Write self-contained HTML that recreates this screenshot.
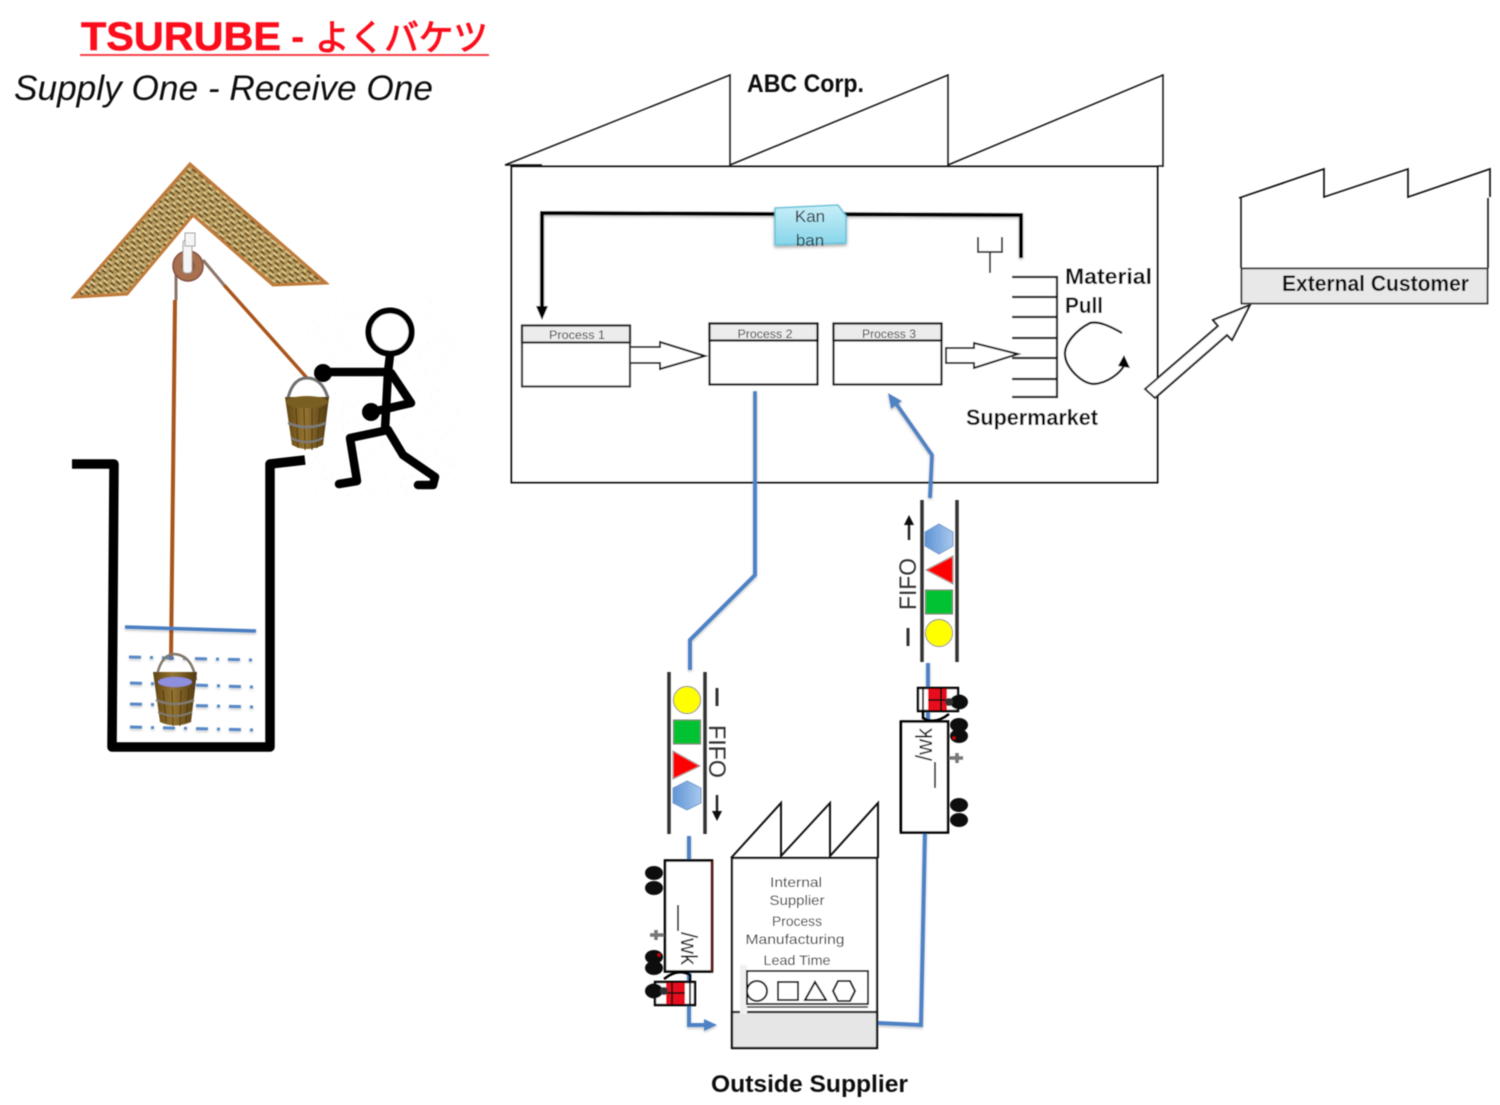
<!DOCTYPE html>
<html>
<head>
<meta charset="utf-8">
<title>Tsurube</title>
<style>
html,body{margin:0;padding:0;background:#fff;width:1500px;height:1105px;overflow:hidden}
svg{display:block}
text{font-family:"Liberation Sans","Noto Sans CJK JP",sans-serif}
.b{font-weight:bold;fill:#111}
.s{font-size:14px;fill:#333}
</style>
</head>
<body>
<svg width="1500" height="1105" viewBox="0 0 1500 1105" xmlns="http://www.w3.org/2000/svg">
<defs>
<filter id="soft" x="-2%" y="-2%" width="104%" height="104%"><feGaussianBlur stdDeviation="0.65"/></filter>
<filter id="shadow" x="-10%" y="-10%" width="120%" height="130%"><feDropShadow dx="0" dy="2" stdDeviation="1.5" flood-color="#000" flood-opacity=".35"/></filter>
<filter id="lshadow" x="-5%" y="-5%" width="110%" height="110%"><feDropShadow dx="0" dy="1.500" stdDeviation="1.200" flood-color="#000" flood-opacity=".25"/></filter>
<filter id="speck" x="0" y="0" width="100%" height="100%">
<feTurbulence type="fractalNoise" baseFrequency="0.4" numOctaves="2" seed="4"/>
<feColorMatrix type="matrix" values="0 0 0 0 .7  0 0 0 0 .7  0 0 0 0 .7  4 4 0 0 -4.700"/>
<feGaussianBlur stdDeviation="0.7"/>
</filter>
<pattern id="thatch" width="9" height="9" patternUnits="userSpaceOnUse" patternTransform="rotate(38)">
<rect width="9" height="9" fill="#b79a5b"/>
<path d="M0 1.500H5.500M3.500 6H9" stroke="#4f3b16" stroke-width="1.600"/>
<path d="M1.500 3.800H7.500M0 8H3" stroke="#eadca8" stroke-width="1.200"/>
</pattern>
<linearGradient id="hex" x1="0" x2="1" y1="0" y2="0"><stop offset="0" stop-color="#5f93d6"/><stop offset="1" stop-color="#a7c8ee"/></linearGradient>
<linearGradient id="kan" x1="0" x2="0" y1="0" y2="1"><stop offset="0" stop-color="#c8eef8"/><stop offset="1" stop-color="#86d5ea"/></linearGradient>
<linearGradient id="wood" x1="0" x2="1" y1="0" y2="0"><stop offset="0" stop-color="#5f4312"/><stop offset=".45" stop-color="#957532"/><stop offset="1" stop-color="#4f3810"/></linearGradient>
</defs>

<rect x="305" y="298" width="155" height="200" filter="url(#speck)" opacity=".22"/>

<g filter="url(#soft)">

<!-- Title -->
<text x="81" y="50" font-size="40" font-weight="bold" fill="#fb0d1b" stroke="#fb0d1b" stroke-width=".6" textLength="200" lengthAdjust="spacingAndGlyphs">TSURUBE</text>
<text x="291" y="50" font-size="40" font-weight="bold" fill="#fb0d1b">-</text>
<text x="315" y="50" font-size="36" fill="#fb0d1b" stroke="#fb0d1b" stroke-width="1" textLength="173" lengthAdjust="spacingAndGlyphs">よくバケツ</text>
<rect x="80" y="54" width="409" height="2" fill="#f8434c"/>
<text x="14" y="100" font-size="35" font-style="italic" fill="#111" textLength="419" lengthAdjust="spacingAndGlyphs">Supply One - Receive One</text>

<!-- Well roof -->
<polygon points="190,164 326,283 273,285 193,215 127,294 74,297" fill="url(#thatch)" stroke="#bf7a3a" stroke-width="3" stroke-linejoin="miter"/>

<!-- Rope -->
<path d="M175 300 L171 660" stroke="#a9551b" stroke-width="4" fill="none"/>
<path d="M176 268 V300" stroke="#8d7468" stroke-width="3" fill="none"/>
<path d="M203 260 L224 285" stroke="#8d7468" stroke-width="3" fill="none"/>
<path d="M224 285 L307 378" stroke="#a9551b" stroke-width="3.500" fill="none"/>
<!-- Pulley -->
<circle cx="188" cy="266" r="15" fill="#a9704f" stroke="#7f5040" stroke-width="1.500"/>
<circle cx="188" cy="266" r="7" fill="#8a5a42"/>
<rect x="183" y="240" width="9" height="33" rx="3" fill="#f5f5f5" stroke="#a0a0a0"/>
<rect x="185" y="233" width="10" height="13" fill="#f5f5f5" stroke="#a0a0a0"/>

<!-- Well -->
<path d="M72 464 H114 L112 747 H270 V464 L305 460" fill="none" stroke="#000" stroke-width="9.500" stroke-linejoin="round"/>

<!-- Water -->
<g filter="url(#lshadow)">
<path d="M125 627 L256 631" stroke="#4a7ec0" stroke-width="3.500" fill="none"/>
<g stroke="#4a7ec0" stroke-width="3" fill="none" stroke-dasharray="12 9 3 9" opacity=".9">
<path d="M129 657 L254 660"/>
<path d="M130 683 L254 687"/>
<path d="M130 704 L254 707"/>
<path d="M130 727 L254 730"/>
</g>
</g>

<!-- Bottom bucket -->
<path d="M156 680 Q160 655 174 654 Q192 655 196 680" fill="none" stroke="#80786a" stroke-width="2.500"/>
<path d="M153 672 H197 L191 722 Q175 729 160 722 Z" fill="url(#wood)"/>
<ellipse cx="175" cy="682" rx="17" ry="5" fill="#8f8fe0"/>
<path d="M163 690 L166 722 M172 690 L173 726 M181 690 L180 726 M189 688 L186 722" stroke="#4d3710" stroke-width="1"/>
<path d="M156 700 Q175 708 194 700" stroke="#807a6e" stroke-width="2.500" fill="none"/>
<path d="M158 712 Q175 720 192 712" stroke="#807a6e" stroke-width="2" fill="none"/>

<!-- Top bucket -->
<path d="M288 398 Q293 378 307 378 Q322 378 328 398" fill="none" stroke="#6f6f6f" stroke-width="3"/>
<path d="M285 397 H329 L323 445 Q307 453 292 445 Z" fill="url(#wood)"/>
<ellipse cx="307" cy="402" rx="21" ry="6" fill="#7a5e20"/>
<path d="M296 408 L298 448 M304 408 L305 450 M312 408 L312 450 M320 408 L317 448" stroke="#4d3710" stroke-width="1"/>
<path d="M288 423 Q307 431 326 423" stroke="#7d7d7d" stroke-width="2.500" fill="none"/>
<path d="M291 438 Q307 446 323 438" stroke="#7d7d7d" stroke-width="2" fill="none"/>

<!-- Stick figure -->
<circle cx="390" cy="332" r="21.500" fill="#fff" stroke="#000" stroke-width="6"/>
<g fill="none" stroke="#000" stroke-width="8.500" stroke-linejoin="round" stroke-linecap="round">
<path d="M390 355 L388 372 L385 430"/>
<path d="M387 372 H325"/>
<path d="M391 373 L411 403 L372 412"/>
<path d="M388 430 L350 438 L357 481 L339 484"/>
<path d="M388 430 L403 455 L435 477 L433 485 L418 485"/>
</g>
<circle cx="323" cy="373" r="9"/>
<circle cx="371" cy="412" r="9"/>

<!-- ABC Corp factory -->
<rect x="511.500" y="166.500" width="646" height="316" fill="#fff" stroke="#111" stroke-width="2"/>
<path d="M505 165 L730 75 V165 L948 75 V165 L1163 75 V167" fill="none" stroke="#111" stroke-width="1.500"/>
<path d="M505 165 H542" fill="none" stroke="#111" stroke-width="1.500"/>
<path d="M1158 166 H1163" fill="none" stroke="#111" stroke-width="1.500"/>
<text x="747" y="92" font-size="25" class="b" textLength="117" lengthAdjust="spacingAndGlyphs">ABC Corp.</text>

<!-- Kanban loop -->
<path d="M1021 258 V215 L542 213 V310" fill="none" stroke="#000" stroke-width="4" filter="url(#lshadow)"/>
<polygon points="536,306 548,306 542,320" fill="#000"/>
<path d="M775 208 L838 205 L846 216 V243 L775 245 Z" fill="url(#kan)" stroke="#62c3dc" stroke-width="1.500" filter="url(#shadow)"/>
<text x="810" y="222" font-size="17" fill="#333" text-anchor="middle">Kan</text>
<text x="810" y="246" font-size="17" fill="#333" text-anchor="middle">ban</text>

<!-- Processes -->
<rect x="522" y="325.500" width="108" height="61" fill="#fff" stroke="#333" stroke-width="2.200"/>
<rect x="522" y="325.500" width="108" height="17" fill="#ececec" stroke="#222" stroke-width="2.200"/>
<text x="577" y="339" class="s" style="font-size:12px" text-anchor="middle" textLength="56" lengthAdjust="spacingAndGlyphs">Process 1</text>
<rect x="709.500" y="323.500" width="108" height="61" fill="#fff" stroke="#000" stroke-width="2.200"/>
<rect x="709.500" y="323.500" width="108" height="17" fill="#ececec" stroke="#000" stroke-width="2.200"/>
<text x="765" y="338" class="s" style="font-size:12px" text-anchor="middle" textLength="55" lengthAdjust="spacingAndGlyphs">Process 2</text>
<rect x="833.500" y="323.500" width="108" height="61" fill="#fff" stroke="#111" stroke-width="2.200"/>
<rect x="833.500" y="323.500" width="108" height="17" fill="#ececec" stroke="#111" stroke-width="2.200"/>
<text x="889" y="338" class="s" style="font-size:12px" text-anchor="middle" textLength="54" lengthAdjust="spacingAndGlyphs">Process 3</text>

<!-- Hollow arrows -->
<path d="M631 347 H660 V342 L705 356 L660 369 V363 H631" fill="#fff" stroke="#111" stroke-width="2"/>
<path d="M946 348 H974 V343 L1018 354 L974 368 V363 H946 Z" fill="#fff" stroke="#111" stroke-width="2"/>

<!-- Supermarket -->
<path d="M1012 277 H1057 V397 H1012 M1012 297 H1057 M1012 317 H1057 M1012 338 H1057 M1012 358 H1057 M1012 379 H1057" fill="none" stroke="#111" stroke-width="2.200"/>
<path d="M978 237 V252 H1002 V237 M990 252 V273" fill="none" stroke="#333" stroke-width="2"/>
<text x="1065" y="284" font-size="22" class="b" textLength="87" lengthAdjust="spacingAndGlyphs">Material</text>
<text x="1065" y="313" font-size="22" class="b" textLength="38" lengthAdjust="spacingAndGlyphs">Pull</text>
<text x="966" y="425" font-size="22" class="b" textLength="132" lengthAdjust="spacingAndGlyphs">Supermarket</text>
<path d="M1122 333 C1108 325 1098 321 1090 323 C1076 330 1064 344 1065 355 C1066 368 1082 384 1094 384 C1107 383 1120 374 1125 364" fill="none" stroke="#000" stroke-width="2.200"/>
<polygon points="1118,366 1124,355 1130,368" fill="#000"/>

<!-- Arrow to customer -->
<path d="M1145 389 L1218 326 L1213 320 L1250 305 L1232 340 L1227 335 L1155 398 Z" fill="#fff" stroke="#222" stroke-width="2"/>

<!-- External customer -->
<path d="M1239 198 L1324 169 V197 L1408 169 V197 L1490 169 V197" fill="none" stroke="#111" stroke-width="1.700"/>
<path d="M1241 198 V268 M1488 198 V268" fill="none" stroke="#222" stroke-width="1.700"/>
<rect x="1241.500" y="268.500" width="246" height="35" fill="#e8e8e8" stroke="#333" stroke-width="1.700"/>
<text x="1282" y="291" font-size="22" class="b" textLength="187" lengthAdjust="spacingAndGlyphs">External Customer</text>

<!-- Blue flows -->
<g filter="url(#lshadow)">
<path d="M755 391 V575 L690 640 V670" fill="none" stroke="#4f82c4" stroke-width="4"/>
<path d="M689 836 V1025 H708" fill="none" stroke="#4f82c4" stroke-width="4"/>
<polygon points="704,1019 717,1025 704,1031" fill="#4f82c4"/>
<path d="M878 1023 L921 1025 L925 830" fill="none" stroke="#4f82c4" stroke-width="4"/>
<path d="M928 720 V663" fill="none" stroke="#4f82c4" stroke-width="4"/>
<path d="M930 498 L932 455 L895 402" fill="none" stroke="#4f82c4" stroke-width="4"/>
<polygon points="888,393 902,401 891,409" fill="#4f82c4"/>
</g>

<!-- FIFO lower -->
<path d="M669 672 V834 M705 672 V834" stroke="#333" stroke-width="3.500" fill="none"/>
<circle cx="687" cy="700" r="13.500" fill="#ffff00" stroke="#888" stroke-width="1"/>
<rect x="673.500" y="720" width="27" height="24" fill="#00c232" stroke="#777" stroke-width="1"/>
<polygon points="673,751 700,766 673,779" fill="#ff0000" stroke="#999"/>
<polygon points="687,781 701,788 701,803 687,810 673,803 673,788" fill="url(#hex)" stroke="#7a9ccb"/>
<text transform="translate(709,725) rotate(90)" font-size="24" fill="#333" textLength="53" lengthAdjust="spacingAndGlyphs">FIFO</text>
<path d="M717 688 V706" stroke="#333" stroke-width="3"/>
<path d="M717 795 V812" stroke="#222" stroke-width="2.500"/>
<polygon points="712,811 722,811 717,821" fill="#111"/>

<!-- FIFO upper -->
<path d="M922 500 V662 M957 500 V662" stroke="#333" stroke-width="3.500" fill="none"/>
<polygon points="939,524 953,532 953,546 939,554 925,546 925,532" fill="url(#hex)" stroke="#7a9ccb"/>
<polygon points="953,556 926,570 953,584" fill="#ff0000" stroke="#999"/>
<rect x="925.500" y="590" width="27" height="24" fill="#00c232" stroke="#777" stroke-width="1"/>
<circle cx="939" cy="633" r="13.500" fill="#ffff00" stroke="#888" stroke-width="1"/>
<text transform="translate(916,610) rotate(-90)" font-size="24" fill="#333" textLength="52" lengthAdjust="spacingAndGlyphs">FIFO</text>
<path d="M908 628 V646" stroke="#333" stroke-width="3"/>
<path d="M909 540 V523" stroke="#222" stroke-width="2.500"/>
<polygon points="904,525 914,525 909,515" fill="#111"/>

<!-- Truck lower -->
<g>
<rect x="665" y="860.500" width="47" height="111" fill="#fff" stroke="#000" stroke-width="2.600"/>
<path d="M712 861 V972" stroke="#5c1515" stroke-width="2.600"/>
<path d="M678 905 V931" fill="none" stroke="#222" stroke-width="1.800"/>
<text transform="translate(681,932) rotate(90)" font-size="23" fill="#111" textLength="33" lengthAdjust="spacingAndGlyphs">/wk</text>
<g fill="#111"><ellipse cx="654" cy="873" rx="9" ry="7"/><ellipse cx="654" cy="888" rx="9" ry="7"/>
<ellipse cx="654" cy="957" rx="9" ry="7"/><ellipse cx="654" cy="968" rx="9" ry="7"/></g>
<circle cx="659" cy="955" r="1.500" fill="#d00"/>
<path d="M650 935 H664 M656 930 V940" stroke="#777" stroke-width="3.500"/>
<path d="M655 982 H695 V1005 H655 Z" fill="#fff" stroke="#000" stroke-width="2.400"/>
<rect x="666" y="983" width="19" height="21" fill="#e8101a"/>
<path d="M672 983 V1004 M666 993 H685 M690 983 V1004" stroke="#111" stroke-width="1.800"/>
<ellipse cx="654" cy="991" rx="9" ry="7.500" fill="#111"/>
<circle cx="664" cy="991" r="4" fill="#333"/>
<path d="M664 979 Q678 968 690 975 V981" fill="none" stroke="#000" stroke-width="2.500"/>
</g>

<!-- Truck upper -->
<g transform="rotate(180 924.500 776.500) translate(236 -140)">
<rect x="665" y="860.500" width="47" height="111" fill="#fff" stroke="#000" stroke-width="2.600"/>
<path d="M712 861 V972" stroke="#000" stroke-width="3"/>
<g fill="#111"><ellipse cx="654" cy="873" rx="9" ry="7"/><ellipse cx="654" cy="888" rx="9" ry="7"/>
<ellipse cx="654" cy="957" rx="9" ry="7"/><ellipse cx="654" cy="968" rx="9" ry="7"/></g>
<circle cx="659" cy="955" r="1.500" fill="#d00"/>
<path d="M650 935 H664 M656 930 V940" stroke="#777" stroke-width="3.500"/>
<path d="M678 905 V931" fill="none" stroke="#222" stroke-width="1.800"/>
<text transform="translate(681,932) rotate(90)" font-size="23" fill="#111" textLength="33" lengthAdjust="spacingAndGlyphs">/wk</text>
<path d="M655 982 H695 V1005 H655 Z" fill="#fff" stroke="#000" stroke-width="2.400"/>
<rect x="666" y="983" width="19" height="21" fill="#e8101a"/>
<path d="M672 983 V1004 M666 993 H685 M690 983 V1004" stroke="#111" stroke-width="1.800"/>
<ellipse cx="654" cy="991" rx="9" ry="7.500" fill="#111"/>
<circle cx="664" cy="991" r="4" fill="#333"/>
<path d="M664 979 Q678 968 690 975 V981" fill="none" stroke="#000" stroke-width="2.500"/>
</g>

<!-- Internal supplier factory -->
<path d="M731 858 L781 803 V856 L830 803 V856 L878 803 V858" fill="none" stroke="#111" stroke-width="2"/>
<rect x="732" y="858" width="145" height="190" fill="#fff" stroke="#111" stroke-width="2.200"/>
<rect x="732" y="1012" width="145" height="36" fill="#e6e6e6" stroke="#111" stroke-width="2.200"/>
<rect x="740" y="965" width="7" height="49" fill="#f0f0f0"/>
<g text-anchor="middle">
<text x="796" y="887" class="s" textLength="52" lengthAdjust="spacingAndGlyphs">Internal</text>
<text x="797" y="905" class="s" textLength="55" lengthAdjust="spacingAndGlyphs">Supplier</text>
<text x="797" y="926" class="s" textLength="50" lengthAdjust="spacingAndGlyphs">Process</text>
<text x="795" y="944" class="s" textLength="99" lengthAdjust="spacingAndGlyphs">Manufacturing</text>
<text x="797" y="965" class="s" textLength="67" lengthAdjust="spacingAndGlyphs">Lead Time</text>
</g>
<rect x="747" y="971" width="121" height="33" fill="#fff" stroke="#111" stroke-width="2"/>
<path d="M747 1007 H868" stroke="#444" stroke-width="1.800"/>
<circle cx="757" cy="991" r="10" fill="#fff" stroke="#111" stroke-width="2"/>
<rect x="778" y="982" width="20" height="18" fill="#fff" stroke="#111" stroke-width="2"/>
<polygon points="805,1000 815,982 826,1000" fill="#fff" stroke="#111" stroke-width="2"/>
<polygon points="838,981 850,981 855,991 850,1001 838,1001 833,991" fill="#fff" stroke="#111" stroke-width="2"/>
<text x="711" y="1092" font-size="24" class="b" textLength="197" lengthAdjust="spacingAndGlyphs">Outside Supplier</text>
</g>
</svg>
</body>
</html>
